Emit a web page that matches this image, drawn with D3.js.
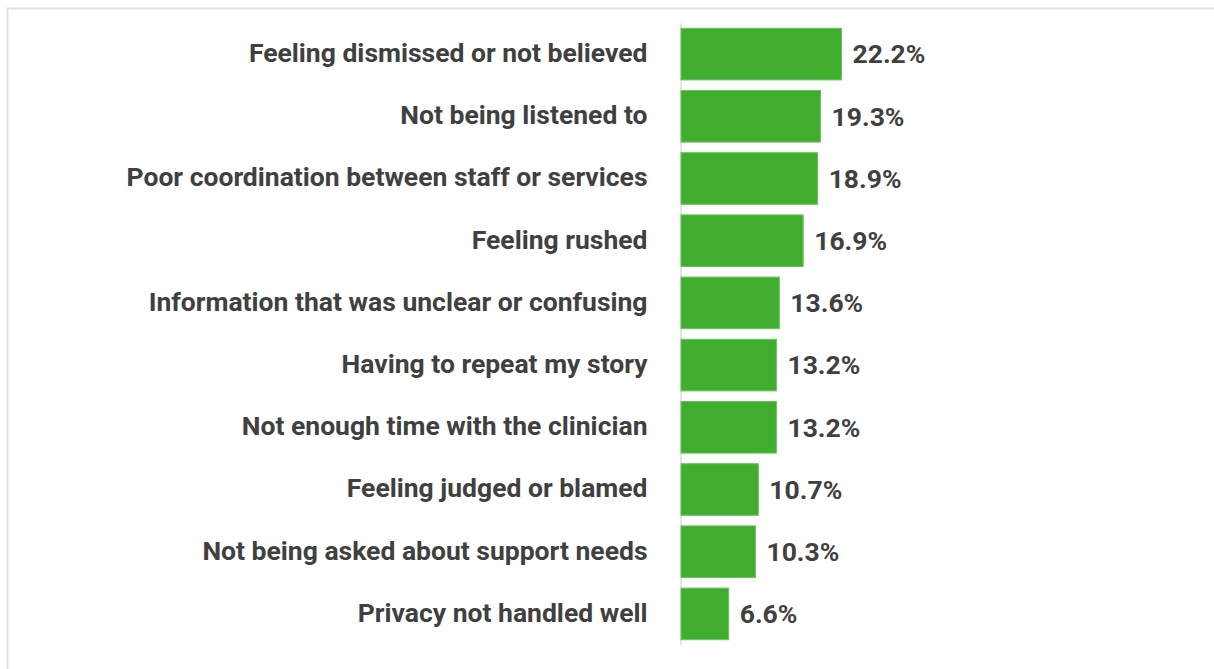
<!DOCTYPE html>
<html>
<head>
<meta charset="utf-8">
<script src="https://cdn.jsdelivr.net/npm/d3@7"></script>
<style>
  html, body { margin: 0; padding: 0; background: #ffffff; }
  svg { display: block; }
</style>
</head>
<body>
<svg id="chart" width="1214" height="669"></svg>
<script>
// Reported issues, share of respondents (%)
const categories = [
  "Feeling dismissed or not believed",
  "Not being listened to",
  "Poor coordination between staff or services",
  "Feeling rushed",
  "Information that was unclear or confusing",
  "Having to repeat my story",
  "Not enough time with the clinician",
  "Feeling judged or blamed",
  "Not being asked about support needs",
  "Privacy not handled well"
];
const values = [22.2, 19.3, 18.9, 16.9, 13.6, 13.2, 13.2, 10.7, 10.3, 6.6];
const valueLabels = ["22.2%", "19.3%", "18.9%", "16.9%", "13.6%", "13.2%", "13.2%", "10.7%", "10.3%", "6.6%"];

const data = categories.map((c, i) => ({ name: c, value: values[i], label: valueLabels[i] }));

const svg = d3.select("#chart");
const font = "Roboto, 'Liberation Sans', Arial, sans-serif";
const textColor = "#404040";
const fontSize = 26.5;

// outer frame
svg.append("rect")
  .attr("x", 7.5).attr("y", 8.5)
  .attr("width", 1230).attr("height", 700)
  .attr("fill", "none")
  .attr("stroke", "#e4e4e4")
  .attr("stroke-width", 2);

const x = d3.scaleLinear().domain([0, 22.2]).range([681, 841.5]);
const y = d3.scaleBand()
  .domain(categories)
  .range([23, 645])
  .paddingInner(0.17)
  .paddingOuter(0.085);

// category axis
const yAxis = d3.axisLeft(y).tickSize(0).tickPadding(33);
const gy = svg.append("g")
  .attr("transform", `translate(${x(0) - 0.5},0)`)
  .call(yAxis);
gy.select(".domain").attr("stroke", "#dcdcdc").attr("stroke-width", 1.5);
gy.selectAll(".tick text")
  .attr("font-family", font)
  .attr("font-weight", 700)
  .attr("font-size", fontSize)
  .attr("dy", "0.3em")
  .attr("fill", textColor);

// bars
svg.append("g").selectAll("rect")
  .data(data)
  .join("rect")
  .attr("x", x(0))
  .attr("y", d => y(d.name))
  .attr("width", d => x(d.value) - x(0))
  .attr("height", y.bandwidth())
  .attr("fill", "#41ad2f")
  .attr("stroke", "#6cc45e")
  .attr("stroke-width", 1);

// value labels
svg.append("g").selectAll("text")
  .data(data)
  .join("text")
  .attr("x", d => x(d.value) + 11)
  .attr("y", d => y(d.name) + y.bandwidth() / 2)
  .attr("dy", "0.35em")
  .attr("font-family", font)
  .attr("font-weight", 700)
  .attr("font-size", fontSize)
  .attr("fill", textColor)
  .text(d => d.label);
</script>
</body>
</html>
